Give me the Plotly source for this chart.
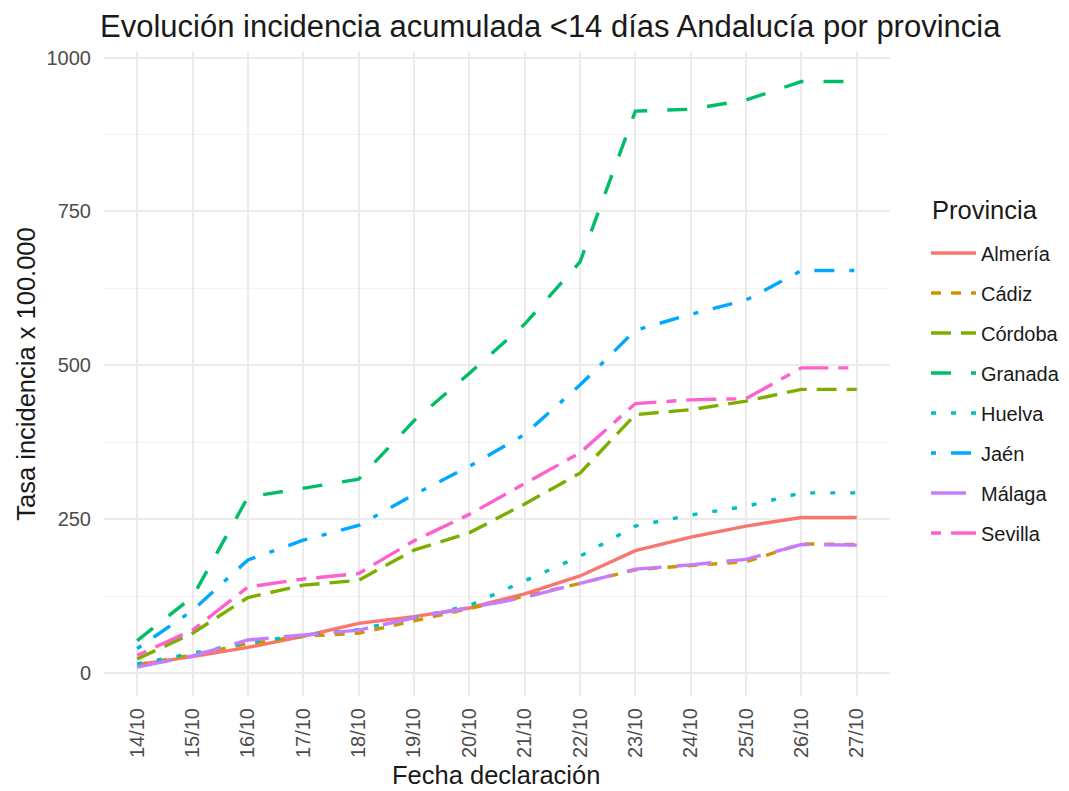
import plotly.graph_objects as go

fechas = ["14/10", "15/10", "16/10", "17/10", "18/10", "19/10", "20/10",
          "21/10", "22/10", "23/10", "24/10", "25/10", "26/10", "27/10"]

almeria = [14, 27, 42, 60, 81, 92, 106, 129, 158, 199, 221, 239, 253, 253]
cadiz   = [14, 30, 48, 60, 65, 85, 104, 125, 146, 168, 175, 181, 210, 209]
cordoba = [23, 65, 123, 143, 151, 200, 228, 275, 325, 420, 428, 442, 461, 461]
granada = [53, 124, 286, 300, 315, 410, 487, 567, 668, 913, 916, 931, 961, 961]
huelva  = [15, 32, 50, 62, 71, 90, 110, 150, 190, 239, 257, 271, 293, 293]
jaen    = [40, 102, 184, 216, 240, 290, 336, 388, 468, 557, 583, 606, 654, 654]
malaga  = [10, 28, 54, 62, 70, 90, 106, 123, 146, 169, 176, 185, 209, 208]
sevilla = [29, 70, 140, 153, 162, 215, 258, 308, 358, 438, 444, 446, 496, 496]

provincias = ["Almería", "Cádiz", "Córdoba", "Granada", "Huelva", "Jaén", "Málaga", "Sevilla"]
series = [almeria, cadiz, cordoba, granada, huelva, jaen, malaga, sevilla]
colores = ["#F8766D", "#CD9600", "#7CAE00", "#00BE67", "#00BFC4", "#00A9FF", "#C77CFF", "#FF61CC"]
dashes = ["solid", "10px,10px", "20px,10px", "20px,20px", "5px,15px",
          "5px,15px,20px,15px", "35px,15px", "10px,10px,30px,10px"]

fig = go.Figure()
for nombre, vals, col, dsh in zip(provincias, series, colores, dashes):
    fig.add_trace(go.Scatter(
        x=fechas, y=vals, mode="lines", name=nombre, legendgroup=nombre,
        line=dict(color=col, width=3.4, dash=dsh),
    ))

font_fam = "Liberation Sans, Arial, sans-serif"
W, H = 1069, 791
fig.update_layout(
    width=W, height=H,
    paper_bgcolor="white", plot_bgcolor="white",
    margin=dict(l=104, r=179, t=52, b=95, autoexpand=False),
    font=dict(family=font_fam, color="#1a1a1a"),
    title=dict(text="Evolución incidencia acumulada &lt;14 días Andalucía por provincia",
               xref="container", yref="container", x=100 / W, xanchor="left",
               y=1 - 26 / H, yanchor="middle",
               font=dict(size=31, color="#1a1a1a", family=font_fam)),
    showlegend=True,
    legend=dict(
        font=dict(size=20, color="#1a1a1a"),
        x=1.0458, xanchor="left", y=0.4705, yanchor="middle",
        tracegroupgap=11, itemwidth=45,
        bgcolor="rgba(0,0,0,0)",
    ),
    annotations=[
        dict(text="Provincia", xref="paper", yref="paper",
             x=(930 - 104) / 786, xanchor="left", y=(696 - 210) / 644, yanchor="middle",
             showarrow=False, font=dict(size=25.5, color="#1a1a1a")),
        dict(text="Fecha declaración", xref="paper", yref="paper",
             x=0.4987, xanchor="center", y=(696 - 775) / 644, yanchor="middle",
             showarrow=False, font=dict(size=25.5, color="#1a1a1a")),
    ],
)
fig.update_xaxes(
    type="category", categoryorder="array", categoryarray=fechas,
    range=[-0.6, 13.6], automargin=False,
    showgrid=True, gridcolor="#EBEBEB", gridwidth=1.6,
    zeroline=False, showline=False, ticks="", ticklen=0, ticklabelstandoff=7,
    tickangle=-90, tickfont=dict(size=20, color="#4D4D4D"),
)
fig.update_yaxes(
    range=[-37, 1009], automargin=False,
    tickvals=[0, 250, 500, 750, 1000], ticktext=["0", "250", "500", "750", "1000"],
    showgrid=True, gridcolor="#EBEBEB", gridwidth=1.6,
    minor=dict(tickvals=[125, 375, 625, 875], showgrid=True, gridcolor="#F3F3F3", gridwidth=1),
    zeroline=False, showline=False, ticks="", ticklen=0, ticklabelstandoff=12,
    tickfont=dict(size=20, color="#4D4D4D"),
    title=dict(text="Tasa incidencia x 100.000", font=dict(size=25.5, color="#1a1a1a"), standoff=3),
)

fig.write_html("out.html",
               config={"displayModeBar": False},
               post_script="document.body.style.margin='0';document.body.style.overflow='hidden';")
